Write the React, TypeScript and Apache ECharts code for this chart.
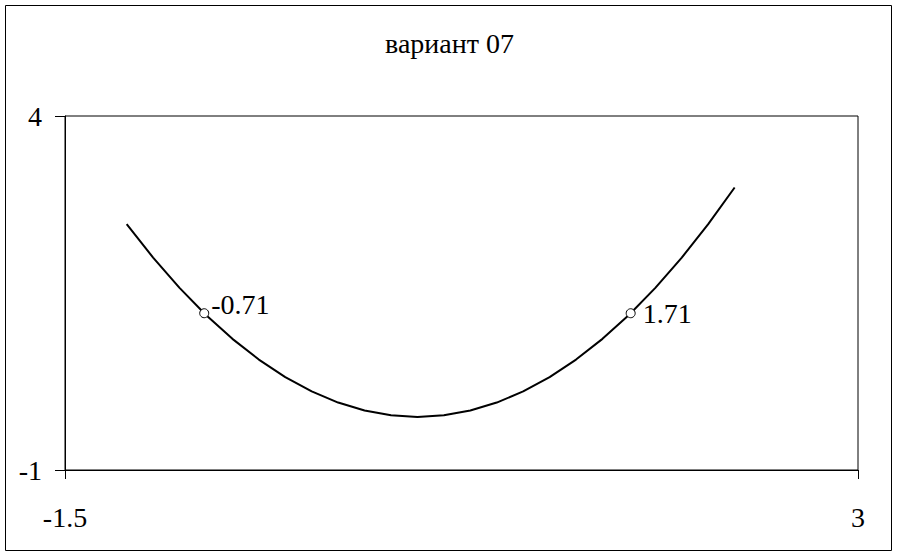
import React, { useEffect, useRef } from "react";
import * as echarts from "echarts";

const titleText = "вариант 07";
const curveX = [-1.15, -1.0, -0.85, -0.7, -0.55, -0.4, -0.25, -0.1, 0.05, 0.2, 0.35, 0.5, 0.65, 0.8, 0.95, 1.1, 1.25, 1.4, 1.55, 1.7, 1.85, 2.0, 2.15, 2.3];
const curveY = [2.4725, 2.0, 1.5725, 1.19, 0.8525, 0.56, 0.3125, 0.11, -0.0475, -0.16, -0.2275, -0.25, -0.2275, -0.16, -0.0475, 0.11, 0.3125, 0.56, 0.8525, 1.19, 1.5725, 2.0, 2.4725, 2.99];
const markX = [-0.71, 1.71];
const markY = [1.2141, 1.2141];
const markLabels = ["-0.71", "1.71"];
const xTicks = [-1.5, 3];
const yTicks = [-1, 4];
const xRange = [-1.5, 3];
const yRange = [-1, 4];

const FONT = "'Liberation Serif', 'Times New Roman', serif";
const FS = 28;

export default function App() {
  const ref = useRef<HTMLDivElement>(null);
  useEffect(() => {
    document.body.style.margin = "0";
    const chart = echarts.init(ref.current!, null, { renderer: "svg" });
    const labelOffsets = [[2, -9], [7, 0]];
    chart.setOption({
      animation: false,
      backgroundColor: "#ffffff",
      textStyle: { fontFamily: FONT, color: "#000" },
      title: {
        text: titleText,
        left: "center",
        top: 24,
        textStyle: { fontFamily: FONT, fontSize: FS, fontWeight: "normal", color: "#000" },
      },
      graphic: [
        {
          type: "rect",
          shape: { x: 5.5, y: 5.5, width: 886, height: 545 },
          style: { fill: "none", stroke: "#000", lineWidth: 1 },
          silent: true,
        },
      ],
      grid: {
        left: 65,
        top: 116,
        right: 41,
        bottom: 86,
        show: true,
        borderColor: "#000",
        borderWidth: 1,
        backgroundColor: "transparent",
      },
      xAxis: {
        type: "value",
        min: xRange[0],
        max: xRange[1],
        splitLine: { show: false },
        axisLine: { show: true, onZero: false, lineStyle: { color: "#000", width: 1 } },
        axisTick: { show: true, inside: false, length: 9, customValues: xTicks, lineStyle: { color: "#000" } },
        axisLabel: {
          customValues: xTicks,
          margin: 33,
          fontFamily: FONT,
          fontSize: FS,
          color: "#000",
          formatter: (v: number) => String(v),
        },
      },
      yAxis: {
        type: "value",
        min: yRange[0],
        max: yRange[1],
        splitLine: { show: false },
        axisLine: { show: true, onZero: false, lineStyle: { color: "#000", width: 1 } },
        axisTick: { show: true, inside: false, length: 10, customValues: yTicks, lineStyle: { color: "#000" } },
        axisLabel: {
          customValues: yTicks,
          margin: 23,
          fontFamily: FONT,
          fontSize: FS,
          color: "#000",
          formatter: (v: number) => String(v),
        },
      },
      series: [
        {
          type: "line",
          data: curveX.map((x, i) => [x, curveY[i]]),
          showSymbol: false,
          symbol: "none",
          smooth: false,
          lineStyle: { color: "#000", width: 2 },
          silent: true,
          z: 2,
        },
        {
          type: "scatter",
          data: markX.map((x, i) => ({
            value: [x, markY[i]],
            label: { offset: labelOffsets[i] },
          })),
          symbol: "circle",
          symbolSize: 9,
          itemStyle: { color: "#fff", borderColor: "#000", borderWidth: 1, opacity: 1 },
          label: {
            show: true,
            position: "right",
            distance: 0,
            fontFamily: FONT,
            fontSize: FS,
            color: "#000",
            formatter: (p: any) => markLabels[p.dataIndex],
          },
          silent: true,
          z: 3,
        },
      ],
    });
    return () => chart.dispose();
  }, []);
  return <div ref={ref} style={{ width: 899, height: 556 }} />;
}
